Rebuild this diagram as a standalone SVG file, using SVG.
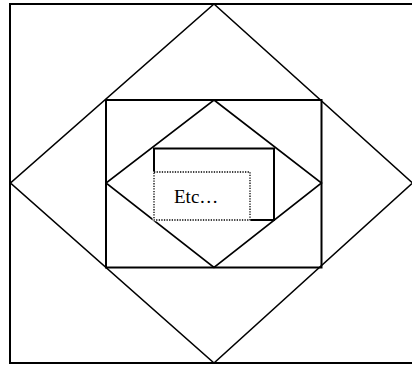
<svg xmlns="http://www.w3.org/2000/svg" width="412" height="366" viewBox="0 0 412 366">
<style>
.s{fill:none;stroke:#000;stroke-width:2}
.d{fill:none;stroke:#000;stroke-width:1.6}
.dot{fill:none;stroke:#000;stroke-width:1.3;stroke-dasharray:1.3 1.3}
.t{font-family:"Liberation Serif",serif;font-size:19px;fill:#000}
</style>
<rect width="412" height="366" fill="#fff"/>
<g id="outer-rect"><rect class="s" x="10" y="4" width="405" height="359"/></g>
<g id="outer-diamond"><polygon class="d" points="214,4 412.5,183 214,363 10.5,183"/></g>
<g id="middle-rect"><rect class="s" x="106" y="100" width="215.5" height="167.5"/></g>
<g id="inner-diamond"><polygon class="d" points="214,100 321.5,183 214,267.5 106,183"/></g>
<g id="inner-rect"><rect class="s" x="154" y="148.5" width="120" height="71.5"/></g>
<g id="dotted-rect">
<rect x="152.6" y="171.6" width="98" height="49.6" fill="#fff"/>
<rect class="dot" x="154" y="172" width="96" height="48"/>
<text class="t" x="174" y="203">Etc…</text></g>
</svg>
